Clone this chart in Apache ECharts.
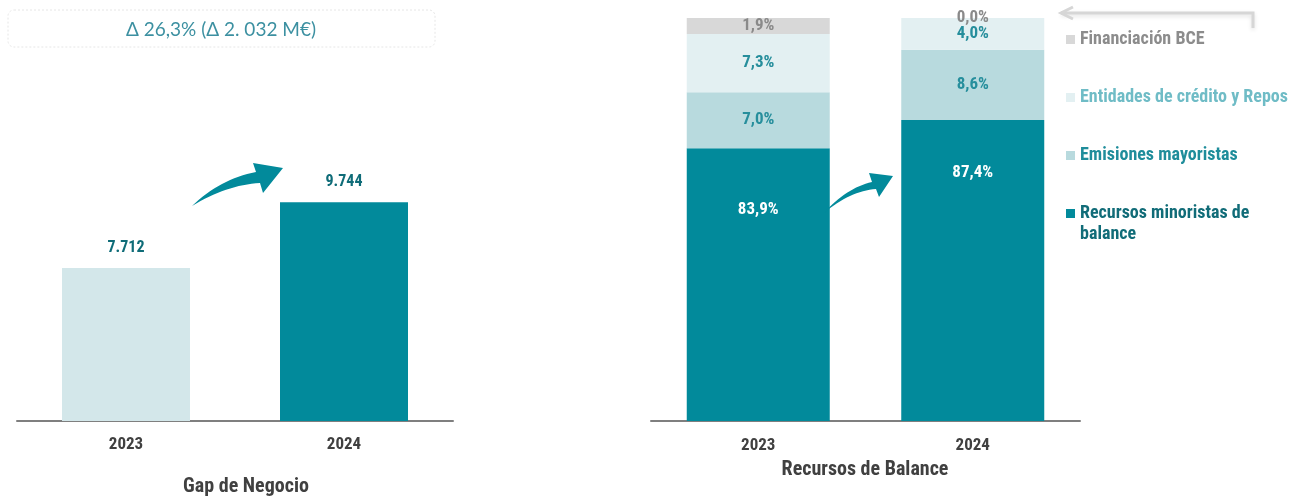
<!DOCTYPE html>
<html>
<head>
<meta charset="utf-8">
<script src="https://cdn.jsdelivr.net/npm/echarts@6/dist/echarts.min.js"></script>
<style>
  html, body { margin: 0; padding: 0; background: #fff; }
  #main { width: 1299px; height: 497px; }
</style>
</head>
<body>
<div id="main"></div>
<script>
// categories
var years = ['2023', '2024'];

// Gap de Negocio (M€)
var gapValues = [7712, 9744];
var gapLabels = ['7.712', '9.744'];

// Recursos de Balance: bar heights as drawn (share of bar), bottom -> top
var recNames = ['Recursos minoristas de balance', 'Emisiones mayoristas', 'Entidades de crédito y Repos', 'Financiación BCE'];
var recHeights = [
    [67.7, 74.7],
    [13.9, 17.4],
    [14.4, 7.9],
    [4.0, 0]
];
var recLabels = [
    ['83,9%', '87,4%'],
    ['7,0%', '8,6%'],
    ['7,3%', '4,0%'],
    ['1,9%', '0,0%']
];

var FONT = "'Roboto Condensed', 'Liberation Sans', sans-serif";
var TEAL = '#028a9b';
var recColors = [TEAL, '#b8dade', '#e3f0f2', '#d8d8d8'];
var recLabelColors = ['#ffffff', '#268e9c', '#268e9c', '#8a8a8a'];
var legendTextColors = ['#116c78', '#1f8d9b', '#6fbcc6', '#8c8c8c'];
var recTopDist = [53, 44];   // where the big white labels sit

// curved arrow outline: tail point, upper curve, head, lower curve back
function quad(p0, c, p1, n) {
    var pts = [];
    for (var k = 0; k <= n; k++) {
        var t = k / n, u = 1 - t;
        pts.push([u * u * p0[0] + 2 * u * t * c[0] + t * t * p1[0],
                  u * u * p0[1] + 2 * u * t * c[1] + t * t * p1[1]]);
    }
    return pts;
}
function arrowPoints(tail, cUp, upEnd, headUp, tip, headLow, lowStart, cLow) {
    return quad(tail, cUp, upEnd, 16)
        .concat([headUp, tip, headLow])
        .concat(quad(lowStart, cLow, tail, 16));
}

var myChart = echarts.init(document.getElementById('main'));

var recSeries = recNames.map(function (name, i) {
    return {
        name: name,
        type: 'bar',
        stack: 'rec',
        xAxisIndex: 1,
        yAxisIndex: 1,
        barWidth: 143,
        itemStyle: { color: recColors[i] },
        label: {
            show: true,
            position: 'inside',
            color: recLabelColors[i],
            fontFamily: FONT,
            fontWeight: 'bold',
            fontSize: 17
        },
        data: recHeights[i].map(function (v, j) {
            var it = { value: v, label: { formatter: recLabels[i][j] } };
            if (i === 0) {
                it.label.position = 'insideTop';
                it.label.distance = recTopDist[j];
            }
            return it;
        })
    };
});

var option = {
    animation: false,
    grid: [
        { left: 17, width: 436, top: 129, bottom: 76 },
        { left: 651, width: 429, top: 18, bottom: 76 }
    ],
    xAxis: [
        {
            gridIndex: 0, type: 'category', data: years,
            axisTick: { show: false },
            axisLine: { lineStyle: { color: '#7f7f7f', width: 2 } },
            axisLabel: { color: '#404040', fontFamily: FONT, fontWeight: 'bold', fontSize: 17, margin: 15 }
        },
        {
            gridIndex: 1, type: 'category', data: years,
            axisTick: { show: false },
            axisLine: { lineStyle: { color: '#7f7f7f', width: 2 } },
            axisLabel: { color: '#404040', fontFamily: FONT, fontWeight: 'bold', fontSize: 17, margin: 16 }
        }
    ],
    yAxis: [
        { gridIndex: 0, type: 'value', min: 3000, max: 12000, show: false },
        { gridIndex: 1, type: 'value', min: 0, max: 100, show: false }
    ],
    legend: {
        orient: 'vertical',
        left: 1066,
        top: 29,
        padding: 0,
        itemGap: 37,
        itemWidth: 9,
        itemHeight: 9,
        icon: 'rect',
        selectedMode: false,
        data: [3, 2, 1, 0].map(function (i) {
            return {
                name: recNames[i],
                textStyle: { color: legendTextColors[i] }
            };
        }),
        formatter: function (name) {
            return name === recNames[0] ? 'Recursos minoristas de' : name;
        },
        textStyle: { fontFamily: FONT, fontWeight: 'bold', fontSize: 18, lineHeight: 21 }
    },
    graphic: [
        {
            type: 'rect', z: 1,
            shape: { x: 8, y: 10, width: 427, height: 37, r: 6 },
            style: { fill: '#fff', stroke: '#e6e6e6', lineWidth: 1, lineDash: [2, 2] }
        },
        {
            type: 'text', z: 2, x: 221, y: 30,
            style: {
                text: '\u0394 26,3% (\u0394 2. 032 M\u20ac)',
                fill: '#3c90a1', font: '19px Lato, "Open Sans", sans-serif',
                align: 'center', verticalAlign: 'middle'
            }
        },
        {
            type: 'polygon', z: 5,
            shape: { points: arrowPoints([192, 206], [220, 179], [256, 172], [253, 163], [283, 168], [263, 193], [260, 183], [226, 185]) },
            style: { fill: TEAL }
        },
        {
            type: 'polygon', z: 5,
            shape: { points: arrowPoints([824, 213], [846, 188], [872, 182], [869, 173], [893, 176], [879, 197], [876, 189], [850, 191]) },
            style: { fill: TEAL }
        },
        {
            type: 'polyline', z: 5,
            shape: { points: [[1061, 13], [1253, 13], [1253, 28]] },
            style: { stroke: '#d6d6d6', lineWidth: 3, fill: null, shadowBlur: 4, shadowColor: 'rgba(0,0,0,0.12)', shadowOffsetY: 2 }
        },
        {
            type: 'polyline', z: 5,
            shape: { points: [[1073, 7], [1061, 13], [1073, 19]] },
            style: { stroke: '#d6d6d6', lineWidth: 3, fill: null }
        },
        {
            type: 'text', x: 1080, y: 234,
            style: {
                text: 'balance', fill: legendTextColors[0],
                font: 'bold 18px ' + FONT, verticalAlign: 'middle'
            }
        },
        {
            type: 'text', x: 246, y: 487,
            style: {
                text: 'Gap de Negocio', fill: '#404040',
                font: 'bold 20px ' + FONT, align: 'center', verticalAlign: 'middle'
            }
        },
        {
            type: 'text', x: 865, y: 470,
            style: {
                text: 'Recursos de Balance', fill: '#404040',
                font: 'bold 20px ' + FONT, align: 'center', verticalAlign: 'middle'
            }
        }
    ],
    series: [
        {
            name: 'Gap de Negocio',
            type: 'bar',
            xAxisIndex: 0,
            yAxisIndex: 0,
            barWidth: 128,
            data: gapValues.map(function (v, j) {
                return { value: v, itemStyle: { color: j === 0 ? '#d3e7ea' : TEAL } };
            }),
            label: {
                show: true,
                position: 'top',
                distance: 12,
                color: '#0f6c78',
                fontFamily: FONT,
                fontWeight: 'bold',
                fontSize: 16,
                formatter: function (p) { return gapLabels[p.dataIndex]; }
            }
        }
    ].concat(recSeries)
};

myChart.setOption(option);
</script>
</body>
</html>
